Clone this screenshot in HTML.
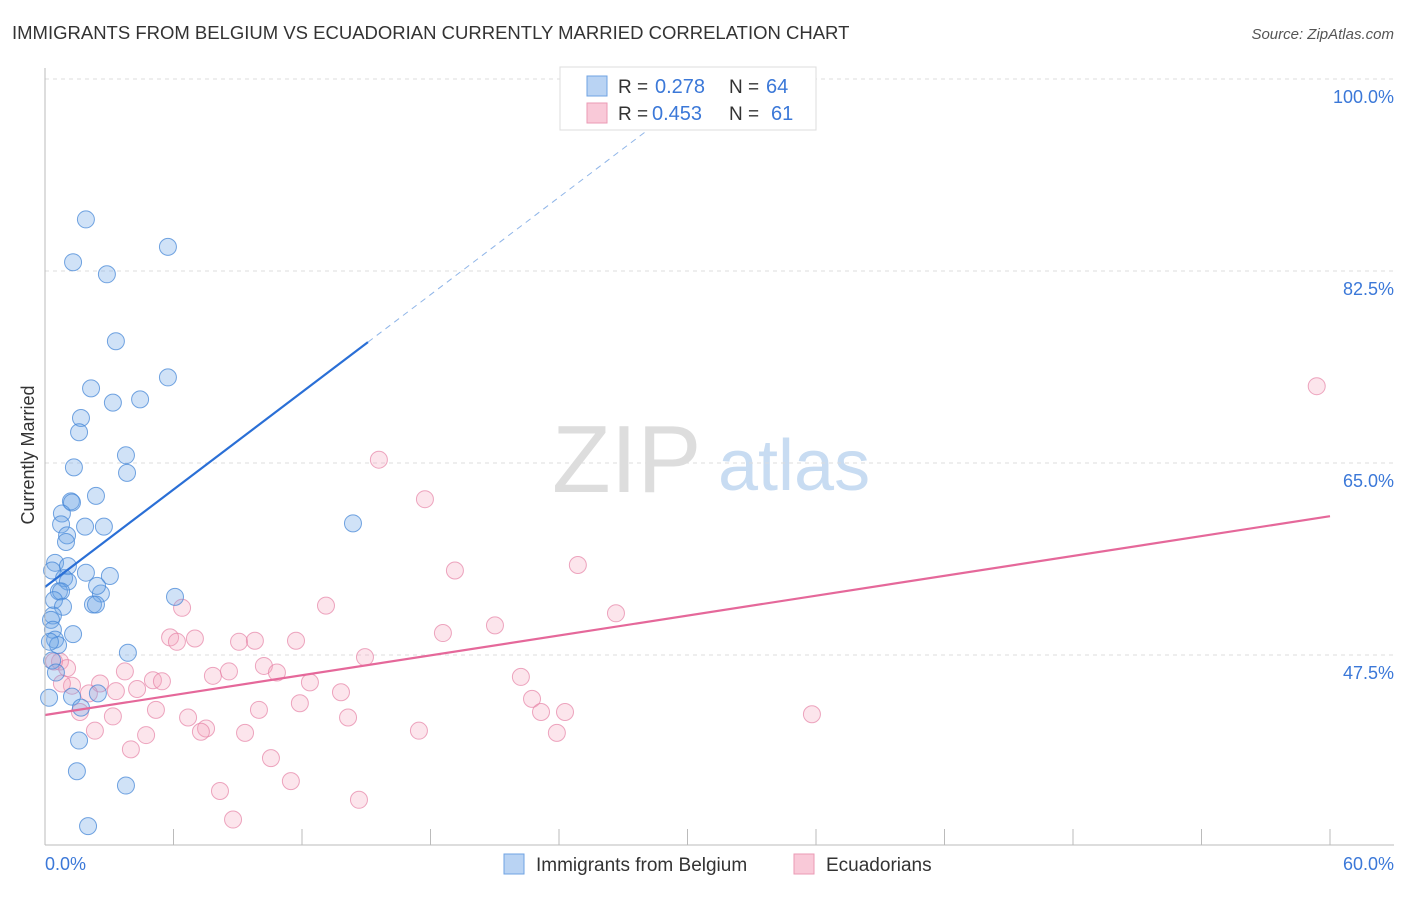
<!DOCTYPE html>
<html><head><meta charset="utf-8"><style>
body{margin:0;background:#fff;font-family:"Liberation Sans",sans-serif;}
svg text{font-family:"Liberation Sans",sans-serif;}
</style></head><body>
<svg id="chart" width="1406" height="892">
<text x="12" y="39" font-size="18.5" fill="#333">IMMIGRANTS FROM BELGIUM VS ECUADORIAN CURRENTLY MARRIED CORRELATION CHART</text>
<text x="1394" y="39" font-size="15" fill="#555" font-style="italic" text-anchor="end">Source: ZipAtlas.com</text>
<text x="34" y="455" font-size="18" fill="#333" transform="rotate(-90 34 455)" text-anchor="middle">Currently Married</text>
<g>
<text x="552" y="492" font-size="96" fill="#ddd" font-family="Liberation Serif,serif">ZIP</text>
<text x="718" y="490" font-size="72" fill="#c8dcf2">atlas</text>
</g>
<g id="grid"></g><g id="pts"></g><g id="trend"></g>
<line x1="45" y1="68" x2="45" y2="845" stroke="#bbb"/>
<line x1="45" y1="845" x2="1394" y2="845" stroke="#bbb"/>
<text x="45" y="870" font-size="18" fill="#3b78d8">0.0%</text>
<text x="1394" y="870" font-size="18" fill="#3b78d8" text-anchor="end">60.0%</text>
<g>
<rect x="560" y="67" width="256" height="63" fill="#fff" stroke="#ddd"/>
<rect x="587" y="76" width="20" height="20" fill="#b9d3f3" stroke="#6fa3e3"/>
<rect x="587" y="103" width="20" height="20" fill="#f9c9d8" stroke="#eb9ab5"/>
<text x="618" y="93" font-size="19" fill="#333">R =</text>
<text x="655" y="93" font-size="20" fill="#3b78d8">0.278</text>
<text x="729" y="93" font-size="19" fill="#333">N =</text>
<text x="766" y="93" font-size="20" fill="#3b78d8">64</text>
<text x="618" y="120" font-size="19" fill="#333">R =</text>
<text x="652" y="120" font-size="20" fill="#3b78d8">0.453</text>
<text x="729" y="120" font-size="19" fill="#333">N =</text>
<text x="771" y="120" font-size="20" fill="#3b78d8">61</text>
</g>
<g>
<rect x="504" y="854" width="20" height="20" fill="#b9d3f3" stroke="#6fa3e3"/>
<text x="536" y="871" font-size="19" fill="#333">Immigrants from Belgium</text>
<rect x="794" y="854" width="20" height="20" fill="#f9c9d8" stroke="#eb9ab5"/>
<text x="826" y="871" font-size="19" fill="#333">Ecuadorians</text>
</g>
</svg>
<script>
const yTicks=[100,82.5,65,47.5];
const yTickLabels=["100.0%","82.5%","65.0%","47.5%"];
const xTicks=[0,6,12,18,24,30,36,42,48,54,60];
const blueX=[1.91,1.31,2.89,5.74,3.31,5.74,2.15,3.17,4.44,1.68,1.59,3.78,3.83,1.35,2.38,1.21,1.26,0.79,0.75,1.87,2.75,1.03,0.98,14.38,0.47,1.07,0.33,1.91,3.03,0.89,1.07,0.65,2.61,2.43,0.75,0.42,0.84,2.24,2.38,6.07,0.37,0.28,0.37,0.47,0.61,1.31,3.87,0.33,0.51,0.19,1.26,2.47,1.68,1.59,1.49,3.78,2.01,0.23];
const blueY=[87.2,83.3,82.2,84.7,76.1,72.8,71.8,70.5,70.8,69.1,67.8,65.7,64.1,64.6,62.0,61.5,61.4,60.4,59.4,59.2,59.2,58.4,57.8,59.5,55.9,55.6,55.2,55.0,54.7,54.5,54.2,53.3,53.1,53.8,53.3,52.5,51.9,52.1,52.1,52.8,51.1,50.7,49.8,48.9,48.4,49.4,47.7,47.0,45.9,43.6,43.7,44.0,42.7,39.7,36.9,35.6,31.9,48.7];
const pinkX=[59.38,15.59,17.74,24.88,19.14,13.12,26.66,6.40,21.01,18.58,5.84,6.16,7.00,9.06,9.80,11.72,14.94,0.70,1.03,0.42,3.73,10.22,10.83,5.04,5.46,7.84,8.59,12.37,22.22,2.57,1.26,0.79,3.31,4.30,2.05,13.82,22.74,11.90,5.18,9.99,1.63,3.17,6.68,14.15,23.16,24.28,35.81,2.33,7.52,7.28,17.46,23.90,9.34,4.72,4.01,10.55,11.48,8.17,14.66,8.78];
const pinkY=[72.0,65.3,61.7,55.7,55.2,52.0,51.3,51.8,50.2,49.5,49.1,48.7,49.0,48.7,48.8,48.8,47.3,46.9,46.3,46.9,46.0,46.5,45.9,45.2,45.1,45.6,46.0,45.0,45.5,44.9,44.7,44.9,44.2,44.4,44.0,44.1,43.5,43.1,42.5,42.5,42.3,41.9,41.8,41.8,42.3,42.3,42.1,40.6,40.8,40.5,40.6,40.4,40.4,40.2,38.9,38.1,36.0,35.1,34.3,32.5];
const blueTrend=[53.7,1.48];
const pinkTrend=[42.03,0.302];
const NS="http://www.w3.org/2000/svg";
const sx=v=>45+v*1285/60, sy=v=>79+(100-v)*10.971;
function mk(tag,attrs,parent){const e=document.createElementNS(NS,tag);for(const k in attrs)e.setAttribute(k,attrs[k]);parent.appendChild(e);return e;}
const grid=document.getElementById('grid');
yTicks.forEach((t,i)=>{
 const l=mk('line',{x1:45,x2:1394,y1:sy(t),y2:sy(t),stroke:'#ddd','stroke-dasharray':'4,4'},grid);
 
 
 const tx=mk('text',{x:1394,y:sy(t)+24,'font-size':18,fill:'#3b78d8','text-anchor':'end'},grid);
 tx.textContent=yTickLabels[i];
 
 
});
xTicks.forEach(t=>{
 const l=mk('line',{x1:sx(t),x2:sx(t),y1:829,y2:845,stroke:'#bbb'},grid);
 
 
});
const pts=document.getElementById('pts');
pinkX.forEach((x,i)=>{
 const c=mk('circle',{cx:sx(x),cy:sy(pinkY[i]),r:8.5,fill:'rgba(243,160,188,0.28)',stroke:'rgba(230,130,165,0.7)','stroke-width':1},pts);
 
 
});
blueX.forEach((x,i)=>{
 const c=mk('circle',{cx:sx(x),cy:sy(blueY[i]),r:8.5,fill:'rgba(110,165,230,0.32)',stroke:'rgba(70,135,215,0.75)','stroke-width':1},pts);
 
 
});
const tr=document.getElementById('trend');
const bl=mk('line',{x1:sx(0),y1:sy(blueTrend[0]),x2:sx(15.08),y2:sy(blueTrend[0]+blueTrend[1]*15.08),stroke:'#2a6fd6','stroke-width':2.2},tr);


const bd=mk('line',{x1:sx(15.08),y1:sy(blueTrend[0]+blueTrend[1]*15.08),x2:sx(28.3),y2:sy(blueTrend[0]+blueTrend[1]*28.3),stroke:'#8fb5e8','stroke-width':1,'stroke-dasharray':'6,5'},tr);


const pl=mk('line',{x1:sx(0),y1:sy(pinkTrend[0]),x2:sx(60),y2:sy(pinkTrend[0]+pinkTrend[1]*60),stroke:'#e5689a','stroke-width':2.2},tr);


</script>
</body></html>
